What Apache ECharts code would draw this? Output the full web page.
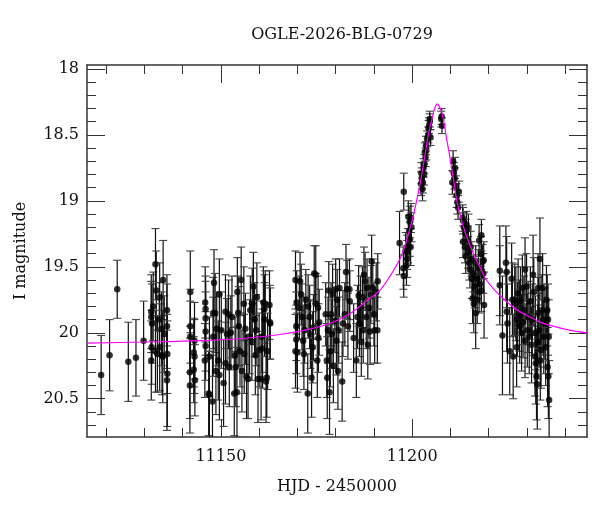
<!DOCTYPE html>
<html>
<head>
<meta charset="utf-8">
<title>OGLE-2026-BLG-0729</title>
<script src="https://cdn.jsdelivr.net/npm/echarts@6.0.0/dist/echarts.min.js"></script>
<style>
  html, body { margin: 0; padding: 0; background: #fff; }
  #lc { width: 600px; height: 512px; }
</style>
</head>
<body>
<div id="lc"></div>
<script>
// photometry: [HJD-2450000, I mag, error]
var early = [
    [11118.7,20.32,0.30],[11120.9,20.17,0.27],[11122.9,19.67,0.22],[11125.8,20.22,0.30],
    [11127.8,20.19,0.29],[11129.8,20.06,0.30]
];
var group2 = [
    [11131.8,19.84,0.28],[11131.8,19.88,0.27],[11132.0,19.93,0.30],[11131.9,20.11,0.28],
    [11131.8,20.21,0.30],[11132.3,19.80,0.26],[11132.9,19.48,0.27],[11133.1,19.68,0.30],
    [11132.9,20.14,0.31],[11133.4,20.16,0.29],[11133.9,19.90,0.28],[11134.0,19.73,0.26],
    [11134.0,20.11,0.33],[11134.6,20.17,0.30],[11134.9,19.60,0.30],[11134.8,20.18,0.35],
    [11135.2,20.01,0.29],[11135.9,19.83,0.27],[11135.9,19.95,0.32],[11136.0,20.16,0.30],
    [11136.0,20.31,0.40],[11135.9,20.36,0.38],[11134.5,19.97,0.28]
];
var group3 = [
    [11142.0,19.69,0.31],[11142.0,19.95,0.28],[11142.0,20.03,0.27],[11141.9,20.30,0.35],
    [11141.9,20.40,0.36],[11142.9,20.15,0.26],[11143.1,20.18,0.28],[11142.9,20.28,0.25],
    [11143.2,20.36,0.27],[11143.1,20.06,0.29]
];
var group4 = [
    [11145.9,19.77,0.27],[11146.0,19.82,0.25],[11146.0,19.89,0.28],[11146.0,19.99,0.30],
    [11145.8,20.21,0.28],[11146.0,20.10,0.26],[11147.0,20.18,0.30],[11146.8,20.46,0.32],
    [11147.0,20.47,0.33],[11147.8,20.52,0.35],[11148.0,19.85,0.27],[11148.0,20.03,0.30],
    [11148.2,19.62,0.25],[11148.5,19.85,0.30],[11148.7,20.29,0.33],[11148.9,19.97,0.28],
    [11149.3,20.21,0.30],[11149.6,19.71,0.27],[11149.6,20.32,0.34],[11150.1,19.98,0.29],
    [11150.7,20.38,0.33],[11151.2,19.84,0.28],[11151.2,20.23,0.31],[11151.6,20.01,0.27],
    [11152.0,19.86,0.26],[11152.2,20.26,0.30],[11152.6,20.00,0.28],[11152.9,19.88,0.31],
    [11153.5,20.46,0.32],[11153.7,20.17,0.29],[11153.9,20.26,0.30],[11154.2,20.45,0.34],
    [11154.3,19.69,0.26],[11154.5,19.85,0.28],[11154.7,19.95,0.30],[11155.0,20.14,0.27],
    [11155.3,19.60,0.25],[11155.5,20.29,0.31],[11156.0,19.78,0.28],[11156.1,20.16,0.30],
    [11156.4,19.97,0.27],[11156.7,20.33,0.32],[11157.1,20.35,0.30],[11157.5,20.03,0.28],
    [11157.7,19.83,0.26],[11158.1,20.07,0.29],[11158.2,19.78,0.27],[11158.5,19.65,0.26],
    [11158.8,19.90,0.28],[11159.0,20.17,0.30],[11159.2,19.98,0.27],[11159.4,19.73,0.26],
    [11159.7,20.35,0.33],[11160.0,20.13,0.28],[11160.5,20.35,0.31],[11160.7,20.03,0.27],
    [11160.9,20.12,0.30],[11161.1,19.77,0.27],[11161.4,19.90,0.28],[11161.4,19.82,0.26],
    [11161.6,19.78,0.25],[11162.7,19.79,0.26],[11162.8,19.92,0.28],[11162.9,19.93,0.27],
    [11162.2,20.14,0.29],[11162.0,20.34,0.30],[11161.8,20.37,0.31]
];
var group5 = [
    [11169.5,19.60,0.22],[11169.8,19.77,0.24],[11169.7,19.95,0.26],[11169.5,20.14,0.28],
    [11169.7,20.05,0.26],[11170.0,20.15,0.30],[11170.7,19.61,0.22],[11170.5,19.81,0.24],
    [11171.0,19.71,0.23],[11171.2,19.88,0.25],[11171.5,20.06,0.27],[11171.7,20.16,0.27],
    [11171.9,19.98,0.25],[11172.2,19.75,0.23],[11172.7,20.46,0.30],[11172.8,19.80,0.24],
    [11173.2,19.88,0.24],[11173.4,20.01,0.26],[11173.7,20.34,0.30],[11174.0,20.11,0.27],
    [11174.2,19.96,0.25],[11174.4,19.55,0.21],[11174.8,19.56,0.22],[11174.8,19.78,0.23],
    [11175.2,20.21,0.28],[11175.5,20.04,0.26],[11175.7,19.92,0.25],[11175.4,19.81,0.24],
    [11177.4,19.86,0.24],[11177.7,20.21,0.28],[11177.8,20.34,0.31],[11178.0,19.98,0.25],
    [11178.2,19.68,0.22],[11178.4,20.45,0.32],[11178.6,20.14,0.27],[11178.8,19.86,0.24],
    [11179.0,20.01,0.26],[11179.2,19.71,0.23],[11179.4,20.25,0.28],[11179.8,19.91,0.24],
    [11180.0,19.67,0.23],[11180.2,20.06,0.26],[11180.4,19.75,0.23],[11180.6,20.29,0.29],
    [11180.8,19.98,0.25],[11181.0,19.66,0.22],[11181.7,20.37,0.30],[11181.9,19.93,0.25],
    [11182.4,19.86,0.24],[11182.7,19.54,0.21],[11183.0,19.67,0.22],[11183.2,19.95,0.25],
    [11183.6,19.67,0.23],[11183.7,19.76,0.23],[11184.7,20.04,0.26],[11185.4,20.21,0.28],
    [11185.7,19.88,0.24],[11186.0,19.72,0.23],[11186.2,19.93,0.25],[11186.5,19.81,0.24],
    [11186.7,20.07,0.26],[11187.0,19.73,0.23],[11187.2,19.98,0.25],[11187.4,19.56,0.21],
    [11187.7,19.61,0.22],[11188.0,19.88,0.24],[11188.2,19.66,0.22],[11188.4,20.09,0.26],
    [11188.7,19.81,0.23],[11189.0,19.99,0.25],[11189.2,19.71,0.22],[11189.4,19.46,0.20],
    [11189.7,19.66,0.22],[11190.0,19.86,0.24],[11190.2,19.98,0.25],[11190.6,19.69,0.22],
    [11190.9,19.98,0.25],[11191.0,19.61,0.21]
];
var rising = [
    [11196.7,19.32,0.24],[11197.8,18.93,0.14],[11197.7,19.51,0.16],[11197.8,19.57,0.16],
    [11198.7,19.44,0.14],[11198.7,19.39,0.13],[11198.9,19.34,0.13],[11199.2,19.23,0.12],
    [11199.4,19.16,0.12],[11199.4,19.29,0.13],[11199.6,19.35,0.14],[11199.0,19.12,0.12],
    [11199.8,19.20,0.11],[11198.5,19.49,0.15],[11199.7,19.13,0.11],[11198.3,19.38,0.14],
    [11202.3,18.87,0.09],[11202.5,18.83,0.08],[11202.7,18.91,0.09],[11202.8,18.86,0.08],
    [11203.1,18.80,0.08],[11203.0,18.75,0.07],[11203.2,18.72,0.07],[11203.5,18.67,0.07],
    [11203.7,18.62,0.07],[11203.6,18.58,0.07],[11203.9,18.53,0.06],[11204.2,18.50,0.06],
    [11204.3,18.45,0.06],[11204.6,18.40,0.06],[11204.6,18.38,0.06],[11204.8,18.52,0.06],
    [11204.4,18.43,0.06],[11202.4,18.79,0.08],[11203.3,18.63,0.07]
];
var falling = [
    [11207.7,18.36,0.06],[11207.8,18.43,0.06],[11207.6,18.38,0.06],
    [11210.7,18.70,0.08],[11210.9,18.79,0.08],[11211.1,18.83,0.08],[11210.5,18.86,0.09],
    [11211.4,18.89,0.08],[11211.6,18.96,0.09],[11211.8,19.01,0.09],[11212.0,19.05,0.09],
    [11211.2,18.75,0.08],[11212.2,18.93,0.08],
    [11213.2,19.13,0.10],[11213.3,19.15,0.10],[11213.5,19.20,0.11],[11213.3,19.31,0.12],
    [11213.8,19.35,0.12],[11214.2,19.18,0.10],[11214.0,19.25,0.11],[11214.0,19.42,0.13],
    [11214.6,19.39,0.12],[11214.6,19.30,0.11],[11214.9,19.47,0.13],[11215.1,19.52,0.14],
    [11215.3,19.35,0.12],[11215.5,19.44,0.13],[11215.6,19.59,0.15],[11215.8,19.74,0.19],
    [11216.0,19.55,0.14],[11216.1,19.78,0.22],[11216.4,19.65,0.16],[11216.6,19.85,0.27],
    [11216.6,19.47,0.13],[11217.0,19.59,0.15],[11217.0,19.75,0.18],[11217.3,19.51,0.14],
    [11217.5,19.30,0.12],[11217.7,19.63,0.15],[11218.0,19.40,0.13],[11218.1,19.68,0.16],
    [11218.4,19.46,0.13],[11218.6,19.55,0.15],[11218.8,19.79,0.25],[11218.7,19.45,0.14],
    [11217.5,19.69,0.16],[11218.1,19.26,0.12],[11214.7,19.21,0.11]
];
var late = [
    [11222.9,19.53,0.34],[11222.9,19.64,0.30],[11223.6,20.02,0.45],[11224.5,19.47,0.28],
    [11224.7,19.54,0.27],[11224.7,19.84,0.30],[11224.9,19.93,0.30],[11225.5,20.14,0.33],
    [11226.0,19.59,0.27],[11226.2,19.75,0.28],[11226.4,20.18,0.32],[11226.8,19.75,0.27],
    [11227.1,19.78,0.28],[11227.3,20.11,0.30],[11227.5,19.90,0.28],[11227.7,19.70,0.26],
    [11228.0,19.87,0.27],[11228.1,19.95,0.28],[11228.3,19.76,0.26],[11228.6,20.00,0.29],
    [11228.8,19.66,0.25],[11229.0,19.92,0.27],[11229.2,19.83,0.26],[11229.5,19.52,0.24],
    [11229.5,20.06,0.28],[11229.9,19.65,0.25],[11230.1,19.98,0.28],[11230.3,19.88,0.27],
    [11230.6,20.03,0.28],[11230.9,19.76,0.26],[11231.2,20.09,0.29],[11231.4,19.90,0.27],
    [11231.6,19.56,0.30],[11231.8,19.69,0.26],[11232.1,20.18,0.30],[11232.2,20.00,0.28],
    [11232.3,20.23,0.31],[11232.5,20.33,0.33],[11232.7,20.39,0.34],[11232.8,20.07,0.28],
    [11232.9,19.66,0.26],[11233.0,19.85,0.27],[11233.2,19.98,0.28],[11233.4,19.44,0.31],
    [11233.5,20.21,0.30],[11233.7,20.13,0.29],[11233.9,19.83,0.27],[11234.1,19.66,0.26],
    [11234.2,19.90,0.27],[11234.4,20.03,0.28],[11234.7,19.93,0.27],[11234.9,20.11,0.29],
    [11235.1,19.75,0.26],[11235.3,19.83,0.27],[11235.4,20.26,0.30],[11235.5,19.90,0.27],
    [11235.6,20.33,0.32],[11235.8,20.51,0.30],[11235.7,20.03,0.28]
];

// fitted model curve
var modelHjd = [11115, 11130, 11145, 11155, 11165, 11172, 11178.5, 11184, 11188, 11191.6,
    11194, 11196.8, 11198.2, 11199.4, 11200.4, 11201.3, 11202.2, 11202.9, 11203.6, 11204.2,
    11204.9, 11205.5, 11206.0, 11206.5, 11207.0, 11207.7, 11208.4, 11209.0, 11209.7, 11210.3,
    11211.0, 11211.6, 11212.9, 11214, 11216, 11218, 11219.4, 11222, 11224.7, 11227.5,
    11230.8, 11234, 11236.8, 11241, 11245.7];
var modelMag = [20.078, 20.07, 20.06, 20.045, 20.015, 19.98, 19.93, 19.85, 19.76, 19.676,
    19.58, 19.44, 19.33, 19.21, 19.10, 18.98, 18.85, 18.73, 18.61, 18.50,
    18.41, 18.34, 18.29, 18.265, 18.28, 18.325, 18.42, 18.53, 18.64, 18.75,
    18.87, 18.99, 19.15, 19.25, 19.40, 19.52, 19.60, 19.69, 19.765, 19.83,
    19.88, 19.925, 19.95, 19.98, 20.0];

var xMajor = [11150, 11200];
var xMinor = [11120, 11130, 11140, 11160, 11170, 11180, 11190, 11210, 11220, 11230, 11240];
var yMajor = [18, 18.5, 19, 19.5, 20, 20.5];
var yMinor = [18.1, 18.2, 18.3, 18.4, 18.6, 18.7, 18.8, 18.9, 19.1, 19.2, 19.3, 19.4,
    19.6, 19.7, 19.8, 19.9, 20.1, 20.2, 20.3, 20.4, 20.6, 20.7];

var phot = [].concat(early, group2, group3, group4, group5, rising, falling, late);
var model = modelHjd.map(function (t, i) { return [t, modelMag[i]]; });

var font = 'DejaVu Serif';
var ink = '#111';
var frame = {show: true, lineStyle: {color: '#333', width: 1.5}};

function plain(v) { return String(v); }

function xAx(pos, ticks, len, labels) {
    return {
        type: 'value', position: pos, min: 11115, max: 11245.7,
        axisLine: labels !== null ? frame : {show: false},
        axisTick: {show: true, inside: true, length: len, customValues: ticks,
            lineStyle: {color: '#333', width: 1}},
        axisLabel: labels ? {show: true, customValues: labels, margin: 12, formatter: plain,
            color: ink, fontFamily: font, fontSize: 16} : {show: false},
        splitLine: {show: false}
    };
}
function yAx(pos, ticks, len, labels) {
    return {
        type: 'value', position: pos, inverse: true, min: 17.97, max: 20.79,
        axisLine: labels !== null ? frame : {show: false},
        axisTick: {show: true, inside: true, length: len, customValues: ticks,
            lineStyle: {color: '#333', width: 1}},
        axisLabel: labels ? {show: true, customValues: labels, margin: 8, formatter: plain,
            color: ink, fontFamily: font, fontSize: 16} : {show: false},
        splitLine: {show: false}
    };
}

var xAxes = [
    xAx('bottom', xMajor, 18, xMajor),
    xAx('bottom', xMinor, 9, null),
    xAx('top', xMajor, 18, false),
    xAx('top', xMinor, 9, null)
];
xAxes[0].name = 'HJD - 2450000';
xAxes[0].nameLocation = 'middle';
xAxes[0].nameGap = 42;
xAxes[0].nameTextStyle = {color: ink, fontFamily: font, fontSize: 16};

var yAxes = [
    yAx('left', yMajor, 18, yMajor),
    yAx('left', yMinor, 9, null),
    yAx('right', yMajor, 18, false),
    yAx('right', yMinor, 9, null)
];
yAxes[0].name = 'I magnitude';
yAxes[0].nameLocation = 'middle';
yAxes[0].nameGap = 58;
yAxes[0].nameTextStyle = {color: ink, fontFamily: font, fontSize: 16};

function errorBar(params, api) {
    var t = api.value(0), m = api.value(1), e = api.value(2);
    var hi = api.coord([t, m - e]);
    var lo = api.coord([t, m + e]);
    var w = 4;
    var bar = {stroke: '#111', lineWidth: 1.2};
    var cap = {stroke: '#444', lineWidth: 1.1};
    return {
        type: 'group',
        children: [
            {type: 'line', shape: {x1: hi[0], y1: hi[1], x2: lo[0], y2: lo[1]}, style: bar},
            {type: 'line', shape: {x1: hi[0] - w, y1: hi[1], x2: hi[0] + w, y2: hi[1]}, style: cap},
            {type: 'line', shape: {x1: lo[0] - w, y1: lo[1], x2: lo[0] + w, y2: lo[1]}, style: cap}
        ]
    };
}

var chart = echarts.init(document.getElementById('lc'));
var option = {
    animation: false,
    backgroundColor: '#fff',
    title: {
        text: 'OGLE-2026-BLG-0729',
        left: 337, top: 22, textAlign: 'center',
        textStyle: {color: ink, fontFamily: font, fontSize: 16, fontWeight: 'normal'}
    },
    grid: {left: 87, right: 13, top: 65, bottom: 75},
    xAxis: xAxes,
    yAxis: yAxes,
    series: [
        {
            type: 'custom', renderItem: errorBar, clip: true,
            encode: {x: 0, y: 1}, data: phot, z: 2
        },
        {
            type: 'scatter', data: phot.map(function (p) { return [p[0], p[1]]; }),
            symbol: 'circle', symbolSize: 6.5, itemStyle: {color: '#000'}, z: 3
        },
        {
            type: 'line', data: model, smooth: 0.3, showSymbol: false,
            lineStyle: {color: '#ff00ff', width: 1.2}, z: 4
        }
    ]
};
chart.setOption(option);
</script>
</body>
</html>
